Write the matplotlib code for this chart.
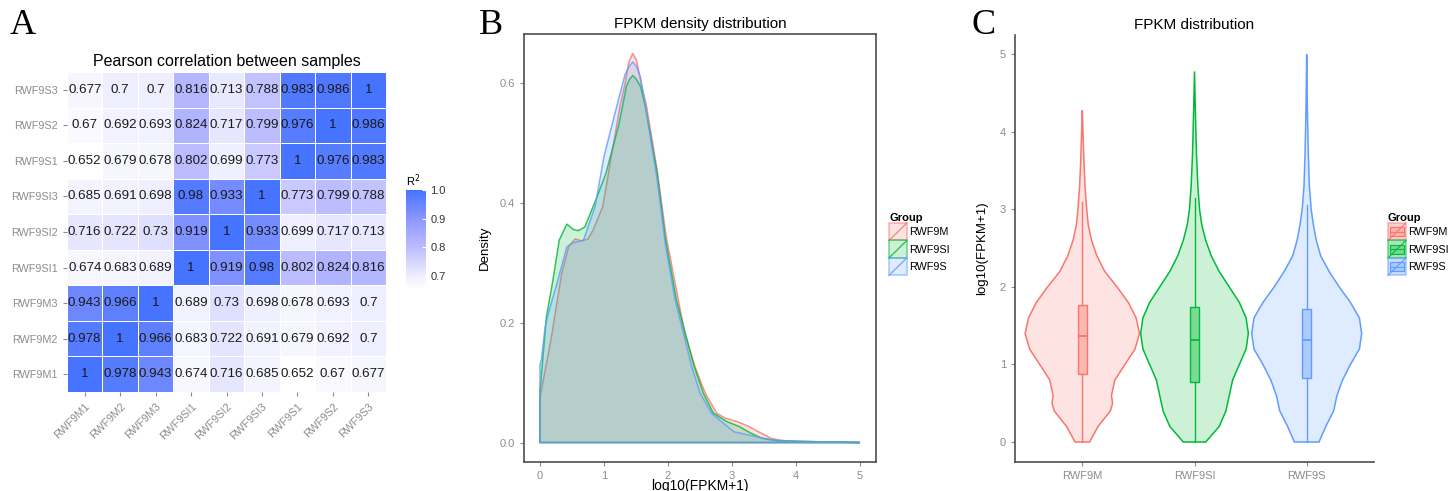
import numpy as np
import matplotlib
matplotlib.use("Agg")
import matplotlib.pyplot as plt
from matplotlib.colors import LinearSegmentedColormap, Normalize, to_rgba
from matplotlib.patches import Rectangle
from matplotlib.lines import Line2D
from matplotlib.legend_handler import HandlerBase

plt.rcParams['font.family'] = ['Liberation Sans', 'DejaVu Sans']

# ---- data: panel A (Pearson correlation) ----
samples = ["RWF9M1", "RWF9M2", "RWF9M3", "RWF9SI1", "RWF9SI2", "RWF9SI3",
           "RWF9S1", "RWF9S2", "RWF9S3"]
corr = [
    [1, 0.978, 0.943, 0.674, 0.716, 0.685, 0.652, 0.67, 0.677],
    [0.978, 1, 0.966, 0.683, 0.722, 0.691, 0.679, 0.692, 0.7],
    [0.943, 0.966, 1, 0.689, 0.73, 0.698, 0.678, 0.693, 0.7],
    [0.674, 0.683, 0.689, 1, 0.919, 0.98, 0.802, 0.824, 0.816],
    [0.716, 0.722, 0.73, 0.919, 1, 0.933, 0.699, 0.717, 0.713],
    [0.685, 0.691, 0.698, 0.98, 0.933, 1, 0.773, 0.799, 0.788],
    [0.652, 0.679, 0.678, 0.802, 0.699, 0.773, 1, 0.976, 0.983],
    [0.67, 0.692, 0.693, 0.824, 0.717, 0.799, 0.976, 1, 0.986],
    [0.677, 0.7, 0.7, 0.816, 0.713, 0.788, 0.983, 0.986, 1],
]
cbar_ticks = [0.7, 0.8, 0.9, 1.0]

# ---- data: panel B (density curves) ----
groups = ["RWF9M", "RWF9SI", "RWF9S"]
dens_x_m = [0, 0.17, 0.34, 0.45, 0.55, 0.65, 0.75, 0.83, 0.98, 1.07, 1.25, 1.33, 1.39,
            1.45, 1.51, 1.58, 1.66, 1.83, 1.97, 2.16, 2.26, 2.42, 2.58, 2.76, 2.89,
            3.08, 3.26, 3.45, 3.61, 3.82, 4.08, 4.5, 5.0]
dens_y_m = [0.075, 0.171, 0.283, 0.328, 0.340, 0.337, 0.340, 0.355, 0.394, 0.45, 0.562,
            0.60, 0.636, 0.650, 0.638, 0.60, 0.565, 0.455, 0.345, 0.239, 0.183, 0.127,
            0.083, 0.049, 0.041, 0.035, 0.027, 0.016, 0.007, 0.003, 0.002, 0.001, 0.0]
dens_x_si = [0, 0.1, 0.2, 0.3, 0.42, 0.52, 0.6, 0.7, 0.89, 1.03, 1.23, 1.35, 1.40,
             1.45, 1.50, 1.57, 1.65, 1.83, 1.96, 2.13, 2.41, 2.55, 2.71, 2.92, 3.11,
             3.29, 3.47, 3.71, 4.0, 4.5, 5.0]
dens_y_si = [0.085, 0.21, 0.27, 0.338, 0.365, 0.356, 0.354, 0.36, 0.41, 0.45, 0.53,
             0.595, 0.607, 0.613, 0.608, 0.595, 0.56, 0.45, 0.34, 0.239, 0.127, 0.083,
             0.049, 0.035, 0.027, 0.016, 0.007, 0.003, 0.002, 0.001, 0.0]
dens_x_s = [0, 0.02, 0.08, 0.13, 0.25, 0.42, 0.5, 0.57, 0.68, 0.86, 1.0, 1.2, 1.33,
            1.39, 1.45, 1.51, 1.57, 1.65, 1.83, 1.96, 2.11, 2.37, 2.50, 2.68, 2.87,
            3.03, 3.24, 3.50, 3.71, 3.92, 4.5, 5.0]
dens_y_s = [0.13, 0.137, 0.193, 0.216, 0.26, 0.327, 0.333, 0.335, 0.338, 0.394, 0.478,
            0.562, 0.615, 0.628, 0.636, 0.628, 0.61, 0.56, 0.44, 0.33, 0.239, 0.127,
            0.083, 0.049, 0.032, 0.018, 0.013, 0.007, 0.003, 0.002, 0.001, 0.0]

# ---- data: panel C (violin half-widths and box stats) ----
vio_y_m = [0, 0.2, 0.4, 0.5, 0.6, 0.8, 1.0, 1.2, 1.4, 1.6, 1.8, 2.0, 2.2, 2.4, 2.6,
           2.8, 3.0, 3.3, 3.6, 4.0, 4.28]
vio_w_m = [0.065, 0.14, 0.25, 0.27, 0.26, 0.29, 0.38, 0.47, 0.51, 0.48, 0.41, 0.31,
           0.20, 0.13, 0.083, 0.053, 0.039, 0.024, 0.015, 0.006, 0.0]
vio_y_si = [0, 0.2, 0.4, 0.6, 0.8, 1.0, 1.2, 1.4, 1.6, 1.8, 2.0, 2.2, 2.4, 2.6, 2.8,
            3.0, 3.3, 3.7, 4.2, 4.78]
vio_w_si = [0.10, 0.22, 0.28, 0.31, 0.34, 0.40, 0.46, 0.48, 0.46, 0.40, 0.31, 0.22,
            0.15, 0.10, 0.065, 0.045, 0.03, 0.018, 0.009, 0.0]
vio_y_s = [0, 0.2, 0.4, 0.6, 0.8, 1.0, 1.2, 1.4, 1.6, 1.8, 2.0, 2.2, 2.4, 2.6, 2.8,
           3.0, 3.3, 3.7, 4.3, 5.0]
vio_w_s = [0.11, 0.17, 0.24, 0.27, 0.32, 0.39, 0.47, 0.49, 0.47, 0.39, 0.29, 0.20,
           0.125, 0.086, 0.06, 0.04, 0.024, 0.015, 0.006, 0.0]
box_q1 = [0.88, 0.78, 0.82]
box_med = [1.37, 1.32, 1.31]
box_q3 = [1.77, 1.74, 1.71]
whisk_lo = [0.0, 0.0, 0.0]
whisk_hi = [3.10, 3.15, 3.06]

colors = ["#F8766D", "#00BA38", "#619CFF"]
gray_txt = "#8C8C8C"

W, H = 1453, 491
fig = plt.figure(figsize=(W / 100, H / 100), dpi=100)


def box(l, t, r, b):
    return [l / W, 1 - b / H, (r - l) / W, (b - t) / H]


# ================= panel A =================
axA = fig.add_axes(box(67, 72, 386, 392))
cmap = LinearSegmentedColormap.from_list(
    "r2", [(0.0, "#FFFFFF"), (0.14, "#EEEEFF"), (0.42, "#BDBDFF"),
           (0.71, "#8C98FF"), (1.0, "#4673FF")])
norm = Normalize(vmin=0.652, vmax=1.0)
mat = np.array(corr)
mesh = axA.pcolormesh(np.arange(10), np.arange(10), mat, cmap=cmap, norm=norm,
                      edgecolors="white", linewidth=0.4)
for i in range(9):
    for j in range(9):
        axA.text(j + 0.5, i + 0.5, "{:g}".format(mat[i, j]), ha="center",
                 va="center", fontsize=9.6, color="#1A1A1A")
axA.set_xlim(0, 9)
axA.set_ylim(0, 9)
axA.set_xticks(np.arange(9) + 0.5)
axA.set_yticks(np.arange(9) + 0.5)
axA.set_xticklabels(samples, rotation=45, ha="right", va="top",
                    rotation_mode="anchor")
axA.set_yticklabels(samples)
axA.tick_params(colors=gray_txt, labelsize=7.8, length=3, width=0.8)
for s in axA.spines.values():
    s.set_visible(False)
axA.set_title("Pearson correlation between samples", fontsize=11.5, pad=4)

cax = fig.add_axes(box(406, 190, 426, 290))
cb = fig.colorbar(mesh, cax=cax)
cb.outline.set_visible(False)
cb.set_ticks(cbar_ticks)
cb.set_ticklabels(["%.1f" % t for t in cbar_ticks])
cax.tick_params(color="white", direction="in", length=3, width=0.8,
                labelcolor="#333333", labelsize=8, pad=3)
fig.text(406 / W, 1 - 181 / H, "R$^2$", fontsize=8, ha="left", va="center")


# ---- legend key handlers ----
class DensKey(HandlerBase):
    def create_artists(self, legend, orig, xd, yd, w, h, fontsize, trans):
        c = orig.get_edgecolor()
        r = Rectangle((-xd, -yd), w, h, facecolor=to_rgba(c, 0.2),
                      edgecolor=to_rgba(c, 0.5), lw=1.2, transform=trans)
        ln = Line2D([-xd, -xd + w], [-yd, -yd + h], color=c, lw=1.0,
                    transform=trans)
        return [r, ln]


class VioKey(HandlerBase):
    def create_artists(self, legend, orig, xd, yd, w, h, fontsize, trans):
        c = orig.get_edgecolor()
        r = Rectangle((-xd, -yd), w, h, facecolor=to_rgba(c, 0.35),
                      edgecolor=to_rgba(c, 0.5), lw=1.2, transform=trans)
        b = Rectangle((-xd + 0.12 * w, -yd + 0.25 * h), 0.76 * w, 0.5 * h,
                      facecolor=to_rgba(c, 0.3), edgecolor=c, lw=0.8,
                      transform=trans)
        m = Line2D([-xd + 0.12 * w, -xd + 0.88 * w], [-yd + 0.5 * h] * 2,
                   color=c, lw=0.8, transform=trans)
        ln = Line2D([-xd, -xd + w], [-yd, -yd + h], color=c, lw=0.8,
                    transform=trans)
        return [r, b, m, ln]


leg_kw = dict(title="Group", loc="upper left", bbox_transform=fig.transFigure,
              frameon=False, fontsize=7.8,
              title_fontproperties={"weight": "bold", "size": 8},
              handlelength=1.65, handleheight=2.1, labelspacing=0.0,
              handletextpad=0.25, borderpad=0, borderaxespad=0,
              alignment="left")

# ================= panel B =================
axB = fig.add_axes(box(524, 34, 876, 462))
dens = [(dens_x_m, dens_y_m), (dens_x_si, dens_y_si), (dens_x_s, dens_y_s)]
handlesB = []
for (xs, ys), c in zip(dens, colors):
    px = np.r_[0, xs]
    py = np.r_[0, ys]
    p = axB.fill(px, py, facecolor=to_rgba(c, 0.2), edgecolor=to_rgba(c, 0.8),
                 lw=1.1)[0]
    handlesB.append(p)
axB.set_xlim(-0.25, 5.25)
axB.set_ylim(-0.0325, 0.6825)
axB.set_xticks([0, 1, 2, 3, 4, 5])
axB.set_yticks([0, 0.2, 0.4, 0.6])
axB.set_yticklabels(["0.0", "0.2", "0.4", "0.6"])
axB.tick_params(colors=gray_txt, labelsize=8, length=3, width=0.8)
for s in axB.spines.values():
    s.set_color("#4D4D4D")
    s.set_linewidth(1.2)
axB.set_title("FPKM density distribution", fontsize=11, pad=4)
axB.set_ylabel("Density", fontsize=9.5, labelpad=6)
fig.text(700 / W, 1 - 486 / H, "log10(FPKM+1)", fontsize=10, ha="center",
         va="center")
axB.legend(handlesB, groups, bbox_to_anchor=(889 / W, 1 - 213 / H),
           handler_map={type(handlesB[0]): DensKey()}, **leg_kw)

# ================= panel C =================
axC = fig.add_axes(box(1015, 35, 1374, 462))
vios = [(vio_y_m, vio_w_m), (vio_y_si, vio_w_si), (vio_y_s, vio_w_s)]
handlesC = []
for k, ((vy, vw), c) in enumerate(zip(vios, colors)):
    pos = k + 1
    vy = np.array(vy)
    vw = np.array(vw)
    xs = np.r_[pos - vw, (pos + vw)[::-1]]
    ys = np.r_[vy, vy[::-1]]
    p = axC.fill(xs, ys, facecolor=to_rgba(c, 0.2), edgecolor=c, lw=1.1)[0]
    handlesC.append(p)

stats = []
for k in range(3):
    stats.append({"med": box_med[k], "q1": box_q1[k], "q3": box_q3[k],
                  "whislo": whisk_lo[k], "whishi": whisk_hi[k], "fliers": []})
bp = axC.bxp(stats, positions=[1, 2, 3], widths=0.08, patch_artist=True,
             showfliers=False, showcaps=False)
for k, c in enumerate(colors):
    bp["boxes"][k].set_facecolor(to_rgba(c, 0.4))
    bp["boxes"][k].set_edgecolor(c)
    bp["boxes"][k].set_linewidth(1.0)
    bp["medians"][k].set_color(c)
    bp["medians"][k].set_linewidth(1.3)
    for wl in bp["whiskers"][2 * k:2 * k + 2]:
        wl.set_color(c)
        wl.set_linewidth(1.0)

axC.set_xlim(0.4, 3.6)
axC.set_ylim(-0.258, 5.25)
axC.set_xticks([1, 2, 3])
axC.set_xticklabels(groups)
axC.set_yticks([0, 1, 2, 3, 4, 5])
axC.tick_params(colors=gray_txt, labelsize=8, length=3, width=0.8)
axC.spines["top"].set_visible(False)
axC.spines["right"].set_visible(False)
for s in ("left", "bottom"):
    axC.spines[s].set_color("#4D4D4D")
    axC.spines[s].set_linewidth(1.2)
axC.set_title("FPKM distribution", fontsize=11, pad=4)
axC.set_ylabel("log10(FPKM+1)", fontsize=9.5, labelpad=8)
axC.legend(handlesC, groups, bbox_to_anchor=(1388 / W, 1 - 213 / H),
           handler_map={type(handlesC[0]): VioKey()}, **leg_kw)

# panel letters
for lx, letter in [(23, "A"), (491, "B"), (984, "C")]:
    fig.text(lx / W, 1 - 25 / H, letter, fontsize=26, ha="center", va="center",
             family=["Liberation Serif", "DejaVu Serif"])

fig.savefig("out.png", dpi=100)
